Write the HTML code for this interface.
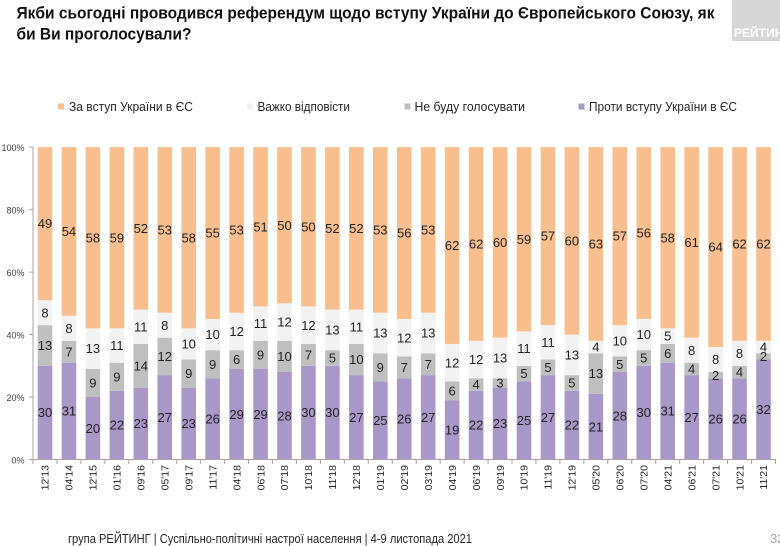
<!DOCTYPE html>
<html><head><meta charset="utf-8"><style>
html,body{margin:0;padding:0;background:#fff;}
svg{display:block;}
text{font-family:"Liberation Sans","Noto Sans CJK SC",sans-serif;}
.o{fill:#F8BE8E}.l{fill:#F2F2F2}.g{fill:#BFBFBF}.p{fill:#A898C8}
.n{font-size:13px;fill:#222;text-anchor:middle}
.xl{font-size:10.5px;fill:#262626;text-anchor:end}
.yl{font-size:9px;fill:#404040;text-anchor:end}
.lg{font-size:12.5px;fill:#262626}
</style></head><body>
<svg width="780" height="546" viewBox="0 0 780 546" xmlns="http://www.w3.org/2000/svg">
<rect width="780" height="546" fill="#fff"/>
<!-- logo -->
<rect x="732" y="0" width="48" height="41" fill="#D6D6D6"/>
<text x="734" y="37" font-size="12" font-weight="bold" fill="#fff">РЕЙТИНГ</text>
<!-- title -->
<text x="16.5" y="18.5" font-size="16.5" font-weight="bold" fill="#111" textLength="698" lengthAdjust="spacingAndGlyphs">Якби сьогодні проводився референдум щодо вступу України до Європейського Союзу, як</text>
<text x="16.5" y="39.5" font-size="16.5" font-weight="bold" fill="#111" textLength="175" lengthAdjust="spacingAndGlyphs">би Ви проголосували?</text>
<!-- legend -->
<rect x="58" y="103.5" width="6" height="6" class="o"/>
<text x="69" y="111" class="lg" textLength="124" lengthAdjust="spacingAndGlyphs">За вступ України в ЄС</text>
<rect x="247" y="103.5" width="6" height="6" class="l"/>
<text x="257.5" y="111" class="lg" textLength="92.5" lengthAdjust="spacingAndGlyphs">Важко відповісти</text>
<rect x="404.5" y="103.5" width="6" height="6" class="g"/>
<text x="414.5" y="111" class="lg" textLength="110.5" lengthAdjust="spacingAndGlyphs">Не буду голосувати</text>
<rect x="578.5" y="103.5" width="6" height="6" class="p"/>
<text x="589" y="111" class="lg" textLength="148" lengthAdjust="spacingAndGlyphs">Проти вступу України в ЄС</text>
<!-- y labels -->
<text x="24.5" y="151" class="yl">100%</text>
<text x="24.5" y="213.5" class="yl">80%</text>
<text x="24.5" y="276" class="yl">60%</text>
<text x="24.5" y="338.5" class="yl">40%</text>
<text x="24.5" y="401" class="yl">20%</text>
<text x="24.5" y="463.5" class="yl">0%</text>
<!-- bars -->
<g transform="matrix(1 0 0 -3.124 0 459.5)">
<g transform="translate(37.7 0)"><rect width="14.6" y="0" height="30" class="p"/><rect width="14.6" y="30" height="13" class="g"/><rect width="14.6" y="43" height="8" class="l"/><rect width="14.6" y="51" height="49" class="o"/></g>
<g transform="translate(61.65 0)"><rect width="14.6" y="0" height="31" class="p"/><rect width="14.6" y="31" height="7" class="g"/><rect width="14.6" y="38" height="8" class="l"/><rect width="14.6" y="46" height="54" class="o"/></g>
<g transform="translate(85.6 0)"><rect width="14.6" y="0" height="20" class="p"/><rect width="14.6" y="20" height="9" class="g"/><rect width="14.6" y="29" height="13" class="l"/><rect width="14.6" y="42" height="58" class="o"/></g>
<g transform="translate(109.55 0)"><rect width="14.6" y="0" height="22" class="p"/><rect width="14.6" y="22" height="9" class="g"/><rect width="14.6" y="31" height="11" class="l"/><rect width="14.6" y="42" height="58" class="o"/></g>
<g transform="translate(133.5 0)"><rect width="14.6" y="0" height="23" class="p"/><rect width="14.6" y="23" height="14" class="g"/><rect width="14.6" y="37" height="11" class="l"/><rect width="14.6" y="48" height="52" class="o"/></g>
<g transform="translate(157.45 0)"><rect width="14.6" y="0" height="27" class="p"/><rect width="14.6" y="27" height="12" class="g"/><rect width="14.6" y="39" height="8" class="l"/><rect width="14.6" y="47" height="53" class="o"/></g>
<g transform="translate(181.4 0)"><rect width="14.6" y="0" height="23" class="p"/><rect width="14.6" y="23" height="9" class="g"/><rect width="14.6" y="32" height="10" class="l"/><rect width="14.6" y="42" height="58" class="o"/></g>
<g transform="translate(205.35 0)"><rect width="14.6" y="0" height="26" class="p"/><rect width="14.6" y="26" height="9" class="g"/><rect width="14.6" y="35" height="10" class="l"/><rect width="14.6" y="45" height="55" class="o"/></g>
<g transform="translate(229.3 0)"><rect width="14.6" y="0" height="29" class="p"/><rect width="14.6" y="29" height="6" class="g"/><rect width="14.6" y="35" height="12" class="l"/><rect width="14.6" y="47" height="53" class="o"/></g>
<g transform="translate(253.25 0)"><rect width="14.6" y="0" height="29" class="p"/><rect width="14.6" y="29" height="9" class="g"/><rect width="14.6" y="38" height="11" class="l"/><rect width="14.6" y="49" height="51" class="o"/></g>
<g transform="translate(277.2 0)"><rect width="14.6" y="0" height="28" class="p"/><rect width="14.6" y="28" height="10" class="g"/><rect width="14.6" y="38" height="12" class="l"/><rect width="14.6" y="50" height="50" class="o"/></g>
<g transform="translate(301.15 0)"><rect width="14.6" y="0" height="30" class="p"/><rect width="14.6" y="30" height="7" class="g"/><rect width="14.6" y="37" height="12" class="l"/><rect width="14.6" y="49" height="51" class="o"/></g>
<g transform="translate(325.1 0)"><rect width="14.6" y="0" height="30" class="p"/><rect width="14.6" y="30" height="5" class="g"/><rect width="14.6" y="35" height="13" class="l"/><rect width="14.6" y="48" height="52" class="o"/></g>
<g transform="translate(349.05 0)"><rect width="14.6" y="0" height="27" class="p"/><rect width="14.6" y="27" height="10" class="g"/><rect width="14.6" y="37" height="11" class="l"/><rect width="14.6" y="48" height="52" class="o"/></g>
<g transform="translate(373 0)"><rect width="14.6" y="0" height="25" class="p"/><rect width="14.6" y="25" height="9" class="g"/><rect width="14.6" y="34" height="13" class="l"/><rect width="14.6" y="47" height="53" class="o"/></g>
<g transform="translate(396.95 0)"><rect width="14.6" y="0" height="26" class="p"/><rect width="14.6" y="26" height="7" class="g"/><rect width="14.6" y="33" height="12" class="l"/><rect width="14.6" y="45" height="55" class="o"/></g>
<g transform="translate(420.9 0)"><rect width="14.6" y="0" height="27" class="p"/><rect width="14.6" y="27" height="7" class="g"/><rect width="14.6" y="34" height="13" class="l"/><rect width="14.6" y="47" height="53" class="o"/></g>
<g transform="translate(444.85 0)"><rect width="14.6" y="0" height="19" class="p"/><rect width="14.6" y="19" height="6" class="g"/><rect width="14.6" y="25" height="12" class="l"/><rect width="14.6" y="37" height="63" class="o"/></g>
<g transform="translate(468.8 0)"><rect width="14.6" y="0" height="22" class="p"/><rect width="14.6" y="22" height="4" class="g"/><rect width="14.6" y="26" height="12" class="l"/><rect width="14.6" y="38" height="62" class="o"/></g>
<g transform="translate(492.75 0)"><rect width="14.6" y="0" height="23" class="p"/><rect width="14.6" y="23" height="3" class="g"/><rect width="14.6" y="26" height="13" class="l"/><rect width="14.6" y="39" height="61" class="o"/></g>
<g transform="translate(516.7 0)"><rect width="14.6" y="0" height="25" class="p"/><rect width="14.6" y="25" height="5" class="g"/><rect width="14.6" y="30" height="11" class="l"/><rect width="14.6" y="41" height="59" class="o"/></g>
<g transform="translate(540.65 0)"><rect width="14.6" y="0" height="27" class="p"/><rect width="14.6" y="27" height="5" class="g"/><rect width="14.6" y="32" height="11" class="l"/><rect width="14.6" y="43" height="57" class="o"/></g>
<g transform="translate(564.6 0)"><rect width="14.6" y="0" height="22" class="p"/><rect width="14.6" y="22" height="5" class="g"/><rect width="14.6" y="27" height="13" class="l"/><rect width="14.6" y="40" height="60" class="o"/></g>
<g transform="translate(588.55 0)"><rect width="14.6" y="0" height="21" class="p"/><rect width="14.6" y="21" height="13" class="g"/><rect width="14.6" y="34" height="4" class="l"/><rect width="14.6" y="38" height="62" class="o"/></g>
<g transform="translate(612.5 0)"><rect width="14.6" y="0" height="28" class="p"/><rect width="14.6" y="28" height="5" class="g"/><rect width="14.6" y="33" height="10" class="l"/><rect width="14.6" y="43" height="57" class="o"/></g>
<g transform="translate(636.45 0)"><rect width="14.6" y="0" height="30" class="p"/><rect width="14.6" y="30" height="5" class="g"/><rect width="14.6" y="35" height="10" class="l"/><rect width="14.6" y="45" height="55" class="o"/></g>
<g transform="translate(660.4 0)"><rect width="14.6" y="0" height="31" class="p"/><rect width="14.6" y="31" height="6" class="g"/><rect width="14.6" y="37" height="5" class="l"/><rect width="14.6" y="42" height="58" class="o"/></g>
<g transform="translate(684.35 0)"><rect width="14.6" y="0" height="27" class="p"/><rect width="14.6" y="27" height="4" class="g"/><rect width="14.6" y="31" height="8" class="l"/><rect width="14.6" y="39" height="61" class="o"/></g>
<g transform="translate(708.3 0)"><rect width="14.6" y="0" height="26" class="p"/><rect width="14.6" y="26" height="2" class="g"/><rect width="14.6" y="28" height="8" class="l"/><rect width="14.6" y="36" height="64" class="o"/></g>
<g transform="translate(732.25 0)"><rect width="14.6" y="0" height="26" class="p"/><rect width="14.6" y="26" height="4" class="g"/><rect width="14.6" y="30" height="8" class="l"/><rect width="14.6" y="38" height="62" class="o"/></g>
<g transform="translate(756.2 0)"><rect width="14.6" y="0" height="32" class="p"/><rect width="14.6" y="32" height="2" class="g"/><rect width="14.6" y="34" height="4" class="l"/><rect width="14.6" y="38" height="62" class="o"/></g>
</g>
<!-- axes -->
<g stroke="#A6A6A6" stroke-width="1" fill="none">
<line x1="33" y1="147" x2="33" y2="459.5"/>
<line x1="33" y1="459.5" x2="776" y2="459.5"/>
<path d="M29 147.1H33M29 209.6H33M29 272.1H33M29 334.5H33M29 397H33M29 459.5H33"/>
<path d="M33 459.5v4.5M56.95 459.5v4.5M80.9 459.5v4.5M104.85 459.5v4.5M128.8 459.5v4.5M152.75 459.5v4.5M176.7 459.5v4.5M200.65 459.5v4.5M224.6 459.5v4.5M248.55 459.5v4.5M272.5 459.5v4.5M296.45 459.5v4.5M320.4 459.5v4.5M344.35 459.5v4.5M368.3 459.5v4.5M392.25 459.5v4.5M416.2 459.5v4.5M440.15 459.5v4.5M464.1 459.5v4.5M488.05 459.5v4.5M512 459.5v4.5M535.95 459.5v4.5M559.9 459.5v4.5M583.85 459.5v4.5M607.8 459.5v4.5M631.75 459.5v4.5M655.7 459.5v4.5M679.65 459.5v4.5M703.6 459.5v4.5M727.55 459.5v4.5M751.5 459.5v4.5M775.45 459.5v4.5"/>
</g>
<!-- data labels -->
<g class="n">
<text x="45" y="417.2">30</text><text x="45" y="350.1">13</text><text x="45" y="317.3">8</text><text x="45" y="228.2">49</text>
<text x="68.95" y="415.7">31</text><text x="68.95" y="356.3">7</text><text x="68.95" y="332.9">8</text><text x="68.95" y="236.1">54</text>
<text x="92.9" y="432.9">20</text><text x="92.9" y="387.6">9</text><text x="92.9" y="353.2">13</text><text x="92.9" y="242.3">58</text>
<text x="116.85" y="429.7">22</text><text x="116.85" y="381.3">9</text><text x="116.85" y="350.1">11</text><text x="116.85" y="242.3">59</text>
<text x="140.8" y="428.2">23</text><text x="140.8" y="370.4">14</text><text x="140.8" y="331.3">11</text><text x="140.8" y="232.9">52</text>
<text x="164.75" y="421.9">27</text><text x="164.75" y="361">12</text><text x="164.75" y="329.8">8</text><text x="164.75" y="234.5">53</text>
<text x="188.7" y="428.2">23</text><text x="188.7" y="378.2">9</text><text x="188.7" y="348.5">10</text><text x="188.7" y="242.3">58</text>
<text x="212.65" y="423.5">26</text><text x="212.65" y="368.8">9</text><text x="212.65" y="339.1">10</text><text x="212.65" y="237.6">55</text>
<text x="236.6" y="418.8">29</text><text x="236.6" y="364.1">6</text><text x="236.6" y="336">12</text><text x="236.6" y="234.5">53</text>
<text x="260.55" y="418.8">29</text><text x="260.55" y="359.5">9</text><text x="260.55" y="328.2">11</text><text x="260.55" y="231.4">51</text>
<text x="284.5" y="420.4">28</text><text x="284.5" y="361">10</text><text x="284.5" y="326.6">12</text><text x="284.5" y="229.8">50</text>
<text x="308.45" y="417.2">30</text><text x="308.45" y="359.5">7</text><text x="308.45" y="329.8">12</text><text x="308.45" y="231.4">50</text>
<text x="332.4" y="417.2">30</text><text x="332.4" y="362.6">5</text><text x="332.4" y="334.5">13</text><text x="332.4" y="232.9">52</text>
<text x="356.35" y="421.9">27</text><text x="356.35" y="364.1">10</text><text x="356.35" y="331.3">11</text><text x="356.35" y="232.9">52</text>
<text x="380.3" y="425.1">25</text><text x="380.3" y="371.9">9</text><text x="380.3" y="337.6">13</text><text x="380.3" y="234.5">53</text>
<text x="404.25" y="423.5">26</text><text x="404.25" y="371.9">7</text><text x="404.25" y="342.3">12</text><text x="404.25" y="237.6">56</text>
<text x="428.2" y="421.9">27</text><text x="428.2" y="368.8">7</text><text x="428.2" y="337.6">13</text><text x="428.2" y="234.5">53</text>
<text x="452.15" y="434.4">19</text><text x="452.15" y="395.4">6</text><text x="452.15" y="367.3">12</text><text x="452.15" y="250.1">62</text>
<text x="476.1" y="429.7">22</text><text x="476.1" y="389.1">4</text><text x="476.1" y="364.1">12</text><text x="476.1" y="248.5">62</text>
<text x="500.05" y="428.2">23</text><text x="500.05" y="387.6">3</text><text x="500.05" y="362.6">13</text><text x="500.05" y="247">60</text>
<text x="524" y="425.1">25</text><text x="524" y="378.2">5</text><text x="524" y="353.2">11</text><text x="524" y="243.9">59</text>
<text x="547.95" y="421.9">27</text><text x="547.95" y="371.9">5</text><text x="547.95" y="347">11</text><text x="547.95" y="240.7">57</text>
<text x="571.9" y="429.7">22</text><text x="571.9" y="387.6">5</text><text x="571.9" y="359.5">13</text><text x="571.9" y="245.4">60</text>
<text x="595.85" y="431.3">21</text><text x="595.85" y="378.2">13</text><text x="595.85" y="351.6">4</text><text x="595.85" y="248.5">63</text>
<text x="619.8" y="420.4">28</text><text x="619.8" y="368.8">5</text><text x="619.8" y="345.4">10</text><text x="619.8" y="240.7">57</text>
<text x="643.75" y="417.2">30</text><text x="643.75" y="362.6">5</text><text x="643.75" y="339.1">10</text><text x="643.75" y="237.6">56</text>
<text x="667.7" y="415.7">31</text><text x="667.7" y="357.9">6</text><text x="667.7" y="340.7">5</text><text x="667.7" y="242.3">58</text>
<text x="691.65" y="421.9">27</text><text x="691.65" y="373.5">4</text><text x="691.65" y="354.8">8</text><text x="691.65" y="247">61</text>
<text x="715.6" y="423.5">26</text><text x="715.6" y="379.8">2</text><text x="715.6" y="364.1">8</text><text x="715.6" y="251.7">64</text>
<text x="739.55" y="423.5">26</text><text x="739.55" y="376.6">4</text><text x="739.55" y="357.9">8</text><text x="739.55" y="248.5">62</text>
<text x="763.5" y="414.1">32</text><text x="763.5" y="361">2</text><text x="763.5" y="351.6">4</text><text x="763.5" y="248.5">62</text>
</g>
<!-- x labels -->
<g class="xl">
<text transform="translate(45 465) rotate(-90)" y="3.7">12'13</text>
<text transform="translate(68.95 465) rotate(-90)" y="3.7">04'14</text>
<text transform="translate(92.9 465) rotate(-90)" y="3.7">12'15</text>
<text transform="translate(116.85 465) rotate(-90)" y="3.7">01'16</text>
<text transform="translate(140.8 465) rotate(-90)" y="3.7">09'16</text>
<text transform="translate(164.75 465) rotate(-90)" y="3.7">05'17</text>
<text transform="translate(188.7 465) rotate(-90)" y="3.7">09'17</text>
<text transform="translate(212.65 465) rotate(-90)" y="3.7">11'17</text>
<text transform="translate(236.6 465) rotate(-90)" y="3.7">04'18</text>
<text transform="translate(260.55 465) rotate(-90)" y="3.7">06'18</text>
<text transform="translate(284.5 465) rotate(-90)" y="3.7">07'18</text>
<text transform="translate(308.45 465) rotate(-90)" y="3.7">10'18</text>
<text transform="translate(332.4 465) rotate(-90)" y="3.7">11'18</text>
<text transform="translate(356.35 465) rotate(-90)" y="3.7">12'18</text>
<text transform="translate(380.3 465) rotate(-90)" y="3.7">01'19</text>
<text transform="translate(404.25 465) rotate(-90)" y="3.7">02'19</text>
<text transform="translate(428.2 465) rotate(-90)" y="3.7">03'19</text>
<text transform="translate(452.15 465) rotate(-90)" y="3.7">04'19</text>
<text transform="translate(476.1 465) rotate(-90)" y="3.7">06'19</text>
<text transform="translate(500.05 465) rotate(-90)" y="3.7">09'19</text>
<text transform="translate(524 465) rotate(-90)" y="3.7">10'19</text>
<text transform="translate(547.95 465) rotate(-90)" y="3.7">11'19</text>
<text transform="translate(571.9 465) rotate(-90)" y="3.7">12'19</text>
<text transform="translate(595.85 465) rotate(-90)" y="3.7">05'20</text>
<text transform="translate(619.8 465) rotate(-90)" y="3.7">06'20</text>
<text transform="translate(643.75 465) rotate(-90)" y="3.7">07'20</text>
<text transform="translate(667.7 465) rotate(-90)" y="3.7">04'21</text>
<text transform="translate(691.65 465) rotate(-90)" y="3.7">06'21</text>
<text transform="translate(715.6 465) rotate(-90)" y="3.7">07'21</text>
<text transform="translate(739.55 465) rotate(-90)" y="3.7">10'21</text>
<text transform="translate(763.5 465) rotate(-90)" y="3.7">11'21</text>
</g>
<!-- footer -->
<text x="68" y="543" font-size="12.5" fill="#262626" textLength="404" lengthAdjust="spacingAndGlyphs">група РЕЙТИНГ | Суспільно-політичні настрої населення  | 4-9 листопада 2021</text>
<text x="770" y="543" font-size="13" fill="#A6A6A6">32</text>
</svg>
</body></html>
